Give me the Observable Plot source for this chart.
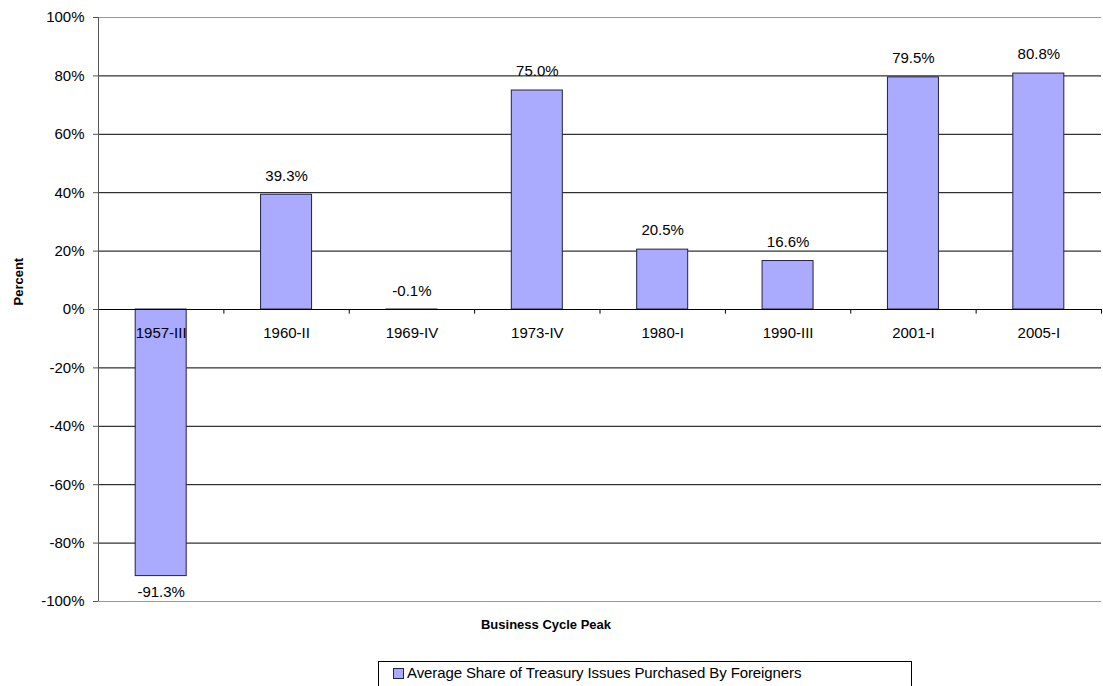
<!DOCTYPE html>
<html>
<head>
<meta charset="utf-8">
<script src="https://cdn.jsdelivr.net/npm/d3@7"></script>
<script src="https://cdn.jsdelivr.net/npm/@observablehq/plot@0.6"></script>
<style>
  html, body { margin: 0; padding: 0; background: #fff; }
  #wrap { width: 1103px; height: 686px; position: relative; overflow: hidden; font-family: "Liberation Sans", Arial, sans-serif; }
  #chart svg { display: block; }
  #legend {
    position: absolute; left: 378px; top: 661px; width: 534px; height: 32px;
    border: 1px solid #000; box-sizing: border-box; background: #fff;
    font-size: 15px; color: #000; text-align: left; line-height: 21px; padding-left: 14px;
    letter-spacing: -0.1px;
  }
  #legend .sw { display: inline-block; width: 9px; height: 9px; background: #aaaaff; border: 1px solid #222244; margin-right: 3px; vertical-align: -1px; }
</style>
</head>
<body>
<div id="wrap">
  <div id="chart"></div>
  <div id="legend"><span class="sw"></span>Average Share of Treasury Issues Purchased By Foreigners</div>
</div>
<script>
const categories = ["1957-III", "1960-II", "1969-IV", "1973-IV", "1980-I", "1990-III", "2001-I", "2005-I"];
const shares = [-0.913, 0.393, -0.001, 0.750, 0.205, 0.166, 0.795, 0.808];
const labels = ["-91.3%", "39.3%", "-0.1%", "75.0%", "20.5%", "16.6%", "79.5%", "80.8%"];
const yTicks = [-1, -0.8, -0.6, -0.4, -0.2, 0, 0.2, 0.4, 0.6, 0.8, 1];

const data = categories.map((c, i) => ({cat: c, pos: i + 0.5, value: shares[i], label: labels[i]}));
const half = 0.2034; // half bar width in category units
const boundaries = d3.range(0, categories.length + 1);
const font = "Liberation Sans, Arial, sans-serif";

const chart = Plot.plot({
  width: 1103,
  height: 655,
  marginLeft: 98,
  marginRight: 2,
  marginTop: 17,
  marginBottom: 54,
  style: {fontFamily: font, fontSize: "15px", color: "#000", background: "#fff"},
  x: {type: "linear", domain: [0, categories.length], axis: null},
  y: {domain: [-1, 1], axis: null},
  marks: [
    Plot.ruleY(yTicks.filter(d => d !== 0), {y: d => d, stroke: d => Math.abs(d) === 1 ? "#999" : "#000", strokeWidth: 1}),
    Plot.rectY(data, {x1: d => d.pos - half, x2: d => d.pos + half, y1: 0, y2: "value", fill: "#aaaaff", stroke: "#222244", strokeWidth: 1}),
    Plot.ruleY([0], {stroke: "#000", strokeWidth: 1}),
    Plot.ruleX(boundaries, {x: d => d, y1: 0, y2: -0.016, stroke: "#000"}),
    Plot.ruleX([0], {y1: -1, y2: 1, stroke: "#555"}),
    Plot.axisY(yTicks, {tickFormat: d => `${Math.round(d * 100)}%`, tickSize: 5, tickPadding: 9, fontSize: 15, stroke: "#555", label: null}),
    Plot.text(data, {x: "pos", y: () => 0, text: "cat", lineAnchor: "top", dy: 18, fontSize: 15, fill: "#000"}),
    Plot.text(data.filter(d => d.value > -0.05), {x: "pos", y: "value", text: "label", dy: -19, fontSize: 15, fill: "#000"}),
    Plot.text(data.filter(d => d.value <= -0.05), {x: "pos", y: "value", text: "label", dy: 16, fontSize: 15, fill: "#000"}),
    Plot.text(["Percent"], {frameAnchor: "left", dx: -80, dy: -4, rotate: -90, fontWeight: "bold", fontSize: 13, fill: "#000"}),
    Plot.text(["Business Cycle Peak"], {frameAnchor: "bottom", dx: -54, dy: 27, fontWeight: "bold", fontSize: 13, fill: "#000"})
  ]
});
document.getElementById("chart").appendChild(chart);
</script>
</body>
</html>
